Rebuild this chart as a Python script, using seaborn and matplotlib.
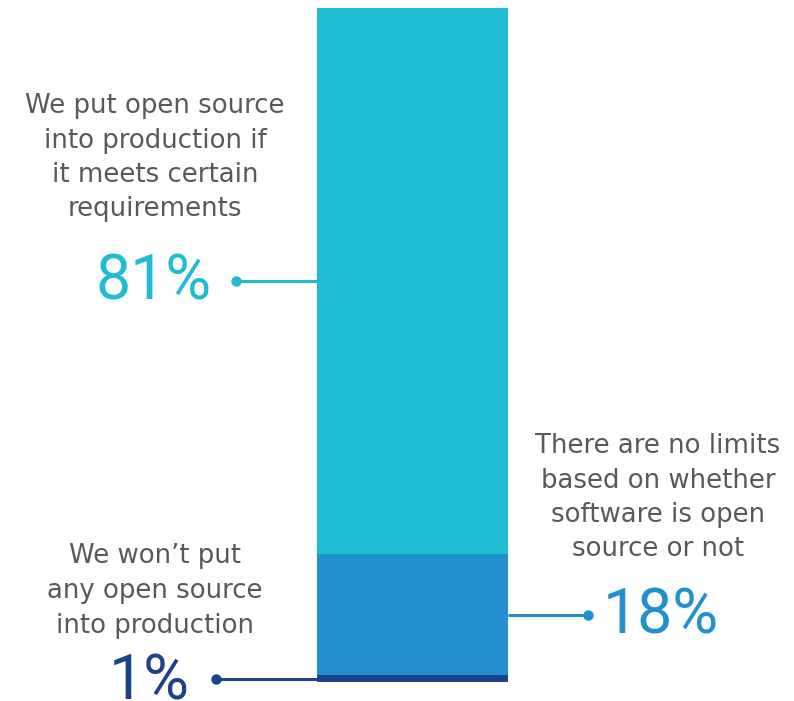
import matplotlib
matplotlib.use("Agg")
import matplotlib.pyplot as plt
import seaborn as sns
import pandas as pd
import numpy as np

# ---- data ----
categories = ["We won\u2019t put\nany open source\ninto production",
              "There are no limits\nbased on whether\nsoftware is open\nsource or not",
              "We put open source\ninto production if\nit meets certain\nrequirements"]
values = [1, 18, 81]          # bottom -> top
pct_labels = ["1%", "18%", "81%"]
colors = ["#1c4389", "#228fce", "#20bcd3"]

W, H = 794, 701
sns.set_theme(style="white")
plt.rcParams['font.family'] = ['DejaVu Sans']

fig = plt.figure(figsize=(W / 100, H / 100), dpi=100)
ax = fig.add_axes([0, 0, 1, 1])

# bar geometry in pixels (style only)
bar_l, bar_r, bar_top, bar_bot = 317, 508, 8, 682
bw = bar_r - bar_l
cx = (bar_l + bar_r) / 2

cum = np.cumsum(values)
df = pd.DataFrame({"grp": [""] * len(values), "cum": cum, "cat": categories})
# draw stacked bar as overlaid cumulative bars (largest first)
for i in range(len(values) - 1, -1, -1):
    sns.barplot(data=df.iloc[[i]], x="grp", y="cum", color=colors[i],
                width=1.0, saturation=1, edgecolor="none", linewidth=0, ax=ax)

total = cum[-1]
ppu = (bar_bot - bar_top) / total  # pixels per value unit
ax.set_xlim(-cx / bw, (W - cx) / bw)
ax.set_ylim(-(H - bar_bot) / ppu, total + bar_top / ppu)
ax.axis("off")


def xd(px):
    return (px - cx) / bw


def fp(x, y):
    return x / W, 1 - y / H


gray = "#58595b"
lfs = 18.7

# connectors at segment midpoints
mids = cum - np.array(values) / 2
conn = [(216, bar_l), (bar_r, 588), (236, bar_l)]
dots = [216, 588, 236]
for i in range(3):
    x0, x1 = conn[i]
    ax.plot([xd(x0), xd(x1)], [mids[i], mids[i]], color=colors[i], lw=2.2,
            solid_capstyle="butt")
    ax.plot([xd(dots[i])], [mids[i]], "o", color=colors[i], ms=7.5, mec="none")

# category labels (line-by-line baselines)
label_pos = [(155, [563, 598, 633]),
             (658, [453, 487.5, 522, 556.5]),
             (155, [113, 147.5, 182, 216.5])]
for i, (lx, bases) in enumerate(label_pos):
    for line, by in zip(categories[i].split("\n"), bases):
        fig.text(*fp(lx, by), line, ha="center", va="baseline",
                 fontsize=lfs, color=gray)

# percentage labels
pfs = 45
pct_pos = [(190, 699, "right"), (603, 633, "left"), (212, 300, "right")]
for i, (px_, py_, ha) in enumerate(pct_pos):
    fig.text(*fp(px_, py_), pct_labels[i], ha=ha, va="baseline",
             fontsize=pfs, color=colors[i], family=["Roboto", "DejaVu Sans"],
             fontweight="normal")

fig.savefig("out.png", dpi=100)
